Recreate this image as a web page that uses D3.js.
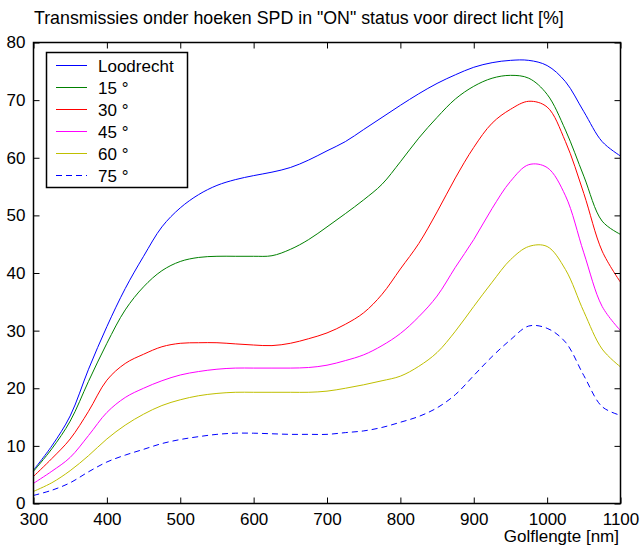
<!DOCTYPE html>
<html>
<head>
<meta charset="utf-8">
<script src="https://cdn.jsdelivr.net/npm/d3@7"></script>
<style>
  html, body { margin: 0; padding: 0; background: #fff; }
  svg text { font-family: "Liberation Sans", Arial, sans-serif; fill: #000; }
</style>
</head>
<body>
<svg id="chart" width="641" height="552"></svg>
<script>
// ---- data ----
const wavelengths = [300,325,350,375,400,425,450,475,500,525,550,575,600,625,650,675,700,
  725,750,775,800,825,850,875,900,925,950,975,1000,1025,1050,1075,1100];

const loodrecht = [5.8,10.0,15.2,23.3,30.7,37.3,42.9,48.0,51.3,53.6,55.2,56.2,56.9,57.5,58.3,59.6,61.2,
  62.8,64.9,67.0,69.1,71.1,72.9,74.4,75.7,76.5,76.9,76.9,76.0,73.2,68.0,62.8,60.3];
const deg15 = [5.6,9.5,14.3,21.2,27.8,33.6,37.6,40.4,42.0,42.7,42.9,42.9,42.9,43.0,44.1,45.8,48.0,
  50.3,52.7,55.4,59.3,63.4,67.0,70.2,72.4,73.8,74.3,73.8,71.0,64.8,56.8,49.0,46.7];
const deg30 = [4.7,7.8,11.2,16.0,21.4,24.3,25.9,27.2,27.8,27.9,27.9,27.7,27.5,27.4,27.8,28.6,29.6,
  31.1,33.1,36.3,40.7,45.1,50.6,56.5,61.8,66.0,68.4,69.8,68.8,62.8,53.8,43.8,38.4];
const deg45 = [3.5,5.6,8.0,11.8,15.8,18.4,20.0,21.3,22.3,22.9,23.3,23.5,23.5,23.5,23.5,23.6,24.0,
  24.8,25.8,27.4,29.5,32.4,36.0,41.0,45.8,51.2,55.9,58.8,58.3,53.4,43.5,34.2,30.0];
const deg60 = [2.1,3.6,5.7,8.3,11.2,13.6,15.5,17.0,18.0,18.7,19.1,19.3,19.3,19.3,19.3,19.3,19.5,
  20.0,20.6,21.3,22.1,23.8,26.2,29.9,34.2,38.4,42.3,44.6,44.6,40.6,33.3,26.8,23.7];
const deg75 = [1.4,2.3,3.6,5.5,7.2,8.4,9.4,10.4,11.1,11.6,12.0,12.2,12.2,12.1,12.0,12.0,12.0,
  12.3,12.6,13.2,14.1,15.1,16.6,18.9,22.2,25.5,28.4,30.8,30.4,28.0,22.2,16.8,15.3];

const seriesNames = ["Loodrecht", "15 °", "30 °", "45 °", "60 °", "75 °"];
const seriesValues = [loodrecht, deg15, deg30, deg45, deg60, deg75];
const seriesColors = ["#0000ff", "#008000", "#ff0000", "#ff00ff", "#bfbf00", "#0000ff"];
const seriesDash = ["none", "none", "none", "none", "none", "6,4"];

const xTicks = [300,400,500,600,700,800,900,1000,1100];
const yTicks = [0,10,20,30,40,50,60,70,80];

const titleText = 'Transmissies onder hoeken SPD in "ON" status voor direct licht [%]';
const xLabelText = "Golflengte [nm]";

// ---- layout ----
const svg = d3.select("#chart");
const mLeft = 33.5, mRight = 620.5, mTop = 42.5, mBottom = 503.5;

const x = d3.scaleLinear().domain([300, 1100]).range([mLeft, mRight]);
const y = d3.scaleLinear().domain([0, 80]).range([mBottom, mTop]);

const fs = 17;

// title
svg.append("text")
  .attr("x", 34).attr("y", 24)
  .attr("font-size", 17.8)
  .text(titleText);

// curves
const line = d3.line()
  .x((d, i) => x(wavelengths[i]))
  .y(d => y(d))
  .curve(d3.curveCatmullRom.alpha(0.5));

const gLines = svg.append("g");
seriesValues.forEach((vals, k) => {
  gLines.append("path")
    .datum(vals)
    .attr("d", line)
    .attr("fill", "none")
    .style("stroke", seriesColors[k])
    .style("stroke-width", 1)
    .style("stroke-dasharray", seriesDash[k]);
});

// axes (ticks inside, box)
const tl = 6;
const fmt = d3.format("d");
const axB = d3.axisBottom(x).tickValues(xTicks).tickFormat(fmt).tickSizeInner(-tl).tickSizeOuter(0).tickPadding(9);
const axT = d3.axisTop(x).tickValues(xTicks).tickSizeInner(-tl).tickSizeOuter(0).tickFormat("");
const axL = d3.axisLeft(y).tickValues(yTicks).tickFormat(fmt).tickSizeInner(-tl).tickSizeOuter(0).tickPadding(8);
const axR = d3.axisRight(y).tickValues(yTicks).tickSizeInner(-tl).tickSizeOuter(0).tickFormat("");

function styleAxis(g) {
  g.select(".domain").remove();
  g.selectAll(".tick line").attr("stroke", "#000").attr("stroke-width", 1);
  g.selectAll(".tick text").attr("font-size", fs).attr("fill", "#000")
    .style("font-family", '"Liberation Sans", Arial, sans-serif');
}

svg.append("g").attr("transform", `translate(0,${mBottom})`).call(axB).call(styleAxis);
svg.append("g").attr("transform", `translate(0,${mTop})`).call(axT).call(styleAxis);
svg.append("g").attr("transform", `translate(${mLeft},0)`).call(axL).call(styleAxis);
svg.append("g").attr("transform", `translate(${mRight},0)`).call(axR).call(styleAxis);

svg.append("rect")
  .attr("x", mLeft).attr("y", mTop)
  .attr("width", mRight - mLeft).attr("height", mBottom - mTop)
  .attr("fill", "none").attr("stroke", "#000").attr("stroke-width", 1.5);

// x label
svg.append("text")
  .attr("x", 619).attr("y", 542)
  .attr("text-anchor", "end")
  .attr("font-size", fs)
  .text(xLabelText);

// legend
const lg = svg.append("g");
lg.append("rect")
  .attr("x", 46.5).attr("y", 52.5).attr("width", 141).attr("height", 135)
  .attr("fill", "#fff").attr("stroke", "#000").attr("stroke-width", 1.5);
seriesNames.forEach((name, k) => {
  const cy = 65.5 + k * 22;
  lg.append("line")
    .attr("x1", 56).attr("x2", 87).attr("y1", cy).attr("y2", cy)
    .style("stroke", seriesColors[k]).style("stroke-width", 1)
    .style("stroke-dasharray", seriesDash[k]);
  lg.append("text")
    .attr("x", 98).attr("y", cy + 6)
    .attr("font-size", fs)
    .text(name);
});
</script>
</body>
</html>
